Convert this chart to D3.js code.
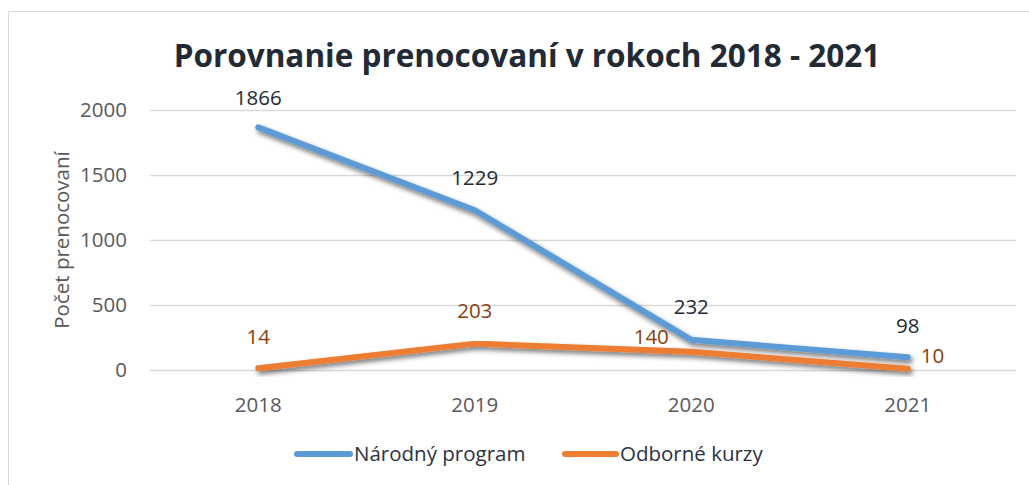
<!DOCTYPE html>
<html>
<head>
<meta charset="utf-8">
<script src="https://cdn.jsdelivr.net/npm/d3@7"></script>
<style>
  body { margin: 0; background: #fff; }
  svg { display: block; font-family: "Open Sans", "Noto Sans", sans-serif; }
</style>
</head>
<body>
<script>
const years = ["2018", "2019", "2020", "2021"];
const narodny = [1866, 1229, 232, 98];
const odborne = [14, 203, 140, 10];
const yTicks = [0, 500, 1000, 1500, 2000];
const seriesNames = ["Národný program", "Odborné kurzy"];

const width = 1029, height = 485;
const margin = {top: 110, right: 13, bottom: 115, left: 150};
const fs = "20.5px";

const svg = d3.select("body").append("svg")
  .attr("width", width)
  .attr("height", height);

// shadow under the lines
const defs = svg.append("defs");
const filt = defs.append("filter").attr("id", "shadow")
  .attr("x", "-10%").attr("y", "-10%").attr("width", "120%").attr("height", "140%");
filt.append("feDropShadow")
  .attr("dx", 2).attr("dy", 3).attr("stdDeviation", 2.4)
  .attr("flood-color", "#000").attr("flood-opacity", 0.55);

// chart border (left + top visible)
svg.append("path")
  .attr("d", "M8.5," + height + " V11.5 H" + width)
  .attr("fill", "none")
  .attr("stroke", "#d9d9d9");

const x = d3.scaleBand()
  .domain(years)
  .range([margin.left, width - margin.right]);

const y = d3.scaleLinear()
  .domain([0, 2000])
  .range([height - margin.bottom, margin.top]);

const cx = d => x(d) + x.bandwidth() / 2;

// gridlines
svg.append("g")
  .selectAll("line")
  .data(yTicks)
  .enter().append("line")
  .attr("x1", margin.left)
  .attr("x2", width - margin.right)
  .attr("y1", d => Math.round(y(d)) + 0.5)
  .attr("y2", d => Math.round(y(d)) + 0.5)
  .attr("stroke", "#d9d9d9")
  .attr("stroke-width", 1.5);

// y tick labels
svg.append("g")
  .selectAll("text")
  .data(yTicks)
  .enter().append("text")
  .attr("x", 127)
  .attr("y", d => y(d))
  .attr("dy", "0.35em")
  .attr("text-anchor", "end")
  .attr("fill", "#595959")
  .style("font-size", fs)
  .text(d => d);

// x tick labels
svg.append("g")
  .selectAll("text")
  .data(years)
  .enter().append("text")
  .attr("x", d => cx(d))
  .attr("y", 412)
  .attr("text-anchor", "middle")
  .attr("fill", "#595959")
  .style("font-size", fs)
  .text(d => d);

// y axis title
svg.append("text")
  .attr("transform", "translate(69," + y(1000) + ") rotate(-90)")
  .attr("text-anchor", "middle")
  .attr("fill", "#595959")
  .style("font-size", fs)
  .text("Počet prenocovaní");

// title
svg.append("text")
  .attr("x", 527)
  .attr("y", 67)
  .attr("text-anchor", "middle")
  .attr("fill", "#222a35")
  .style("font-size", "31.5px")
  .style("font-weight", "bold")
  .text("Porovnanie prenocovaní v rokoch 2018 - 2021");

const line = d3.line()
  .x(d => cx(d.year))
  .y(d => y(d.value));

const series = [
  {name: seriesNames[0], values: narodny, color: "#5b9bd5", label: "#222a35"},
  {name: seriesNames[1], values: odborne, color: "#ed7d31", label: "#8a3f0d"}
];

series.forEach(s => {
  svg.append("path")
    .datum(years.map((yr, i) => ({year: yr, value: s.values[i]})))
    .attr("d", line)
    .attr("fill", "none")
    .attr("stroke", s.color)
    .attr("stroke-width", 6)
    .attr("stroke-linecap", "round")
    .attr("stroke-linejoin", "round")
    .attr("filter", "url(#shadow)");
});

// data labels
const labelPos = [
  [{dx: 0, dy: -30}, {dx: 0, dy: -32}, {dx: 0, dy: -33}, {dx: 0, dy: -31}],
  [{dx: 0, dy: -31}, {dx: 0, dy: -33}, {dx: -40, dy: -15}, {dx: 13, dy: -13}]
];
series.forEach((s, si) => {
  svg.append("g")
    .selectAll("text")
    .data(s.values)
    .enter().append("text")
    .attr("x", (d, i) => cx(years[i]) + labelPos[si][i].dx)
    .attr("y", (d, i) => y(d) + labelPos[si][i].dy)
    .attr("dy", "0.35em")
    .attr("text-anchor", (d, i) => labelPos[si][i].dx > 0 ? "start" : "middle")
    .attr("fill", s.label)
    .style("font-size", fs)
    .text(d => d);
});

// legend
const legendItems = [
  {x: 297, len: 53, s: series[0]},
  {x: 565, len: 51, s: series[1]}
];
const lg = svg.append("g");
legendItems.forEach(it => {
  lg.append("line")
    .attr("x1", it.x).attr("x2", it.x + it.len)
    .attr("y1", 454).attr("y2", 454)
    .attr("stroke", it.s.color)
    .attr("stroke-width", 6)
    .attr("stroke-linecap", "round");
  lg.append("text")
    .attr("x", it.x + it.len + 4)
    .attr("y", 454)
    .attr("dy", "0.35em")
    .attr("fill", "#2b3340")
    .style("font-size", fs)
    .text(it.s.name);
});
</script>
</body>
</html>
